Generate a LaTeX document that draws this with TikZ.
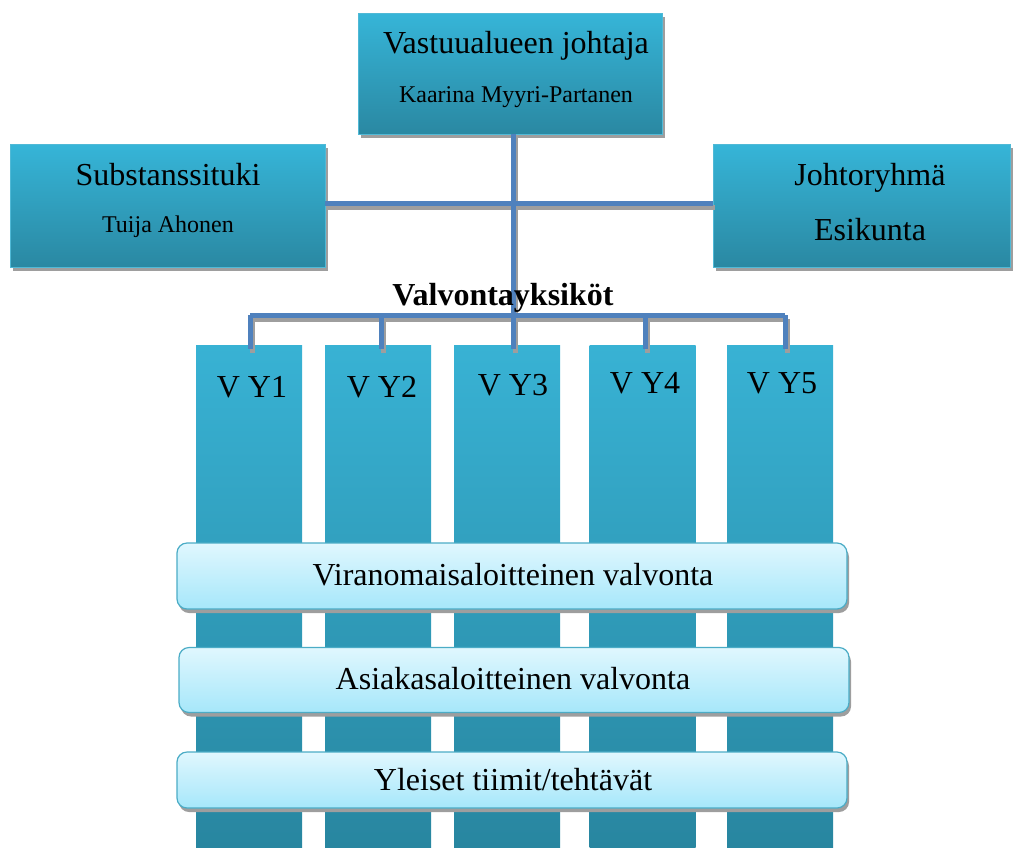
\documentclass[tikz,border=0pt]{standalone}
\usepackage{fontspec}
\setmainfont{Liberation Serif}
\usetikzlibrary{shadows}
\definecolor{boxtop}{RGB}{54,181,216}
\definecolor{boxbot}{RGB}{42,136,162}
\definecolor{boxedge}{RGB}{80,185,214}
\definecolor{coltop}{RGB}{56,178,212}
\definecolor{colbot}{RGB}{40,134,160}
\definecolor{bandtop}{RGB}{224,247,254}
\definecolor{bandbot}{RGB}{166,231,250}
\definecolor{bandline}{RGB}{75,172,198}
\definecolor{conn}{RGB}{79,129,189}
\definecolor{shad}{RGB}{158,158,158}
\begin{document}
\begin{tikzpicture}[x=1pt,y=-1pt,
  every node/.style={inner sep=0pt, outer sep=0pt},
  box/.style={rectangle, draw=boxedge, line width=0.8pt, top color=boxtop, bottom color=boxbot,
    drop shadow={shadow xshift=3pt, shadow yshift=-4pt, fill=shad, opacity=1}},
  col/.style={rectangle, top color=coltop, bottom color=colbot, minimum width=106pt, minimum height=502pt},
  band/.style={rectangle, rounded corners=10pt, draw=bandline, line width=1.2pt,
    top color=bandtop, bottom color=bandbot, minimum width=670pt,
    drop shadow={shadow xshift=2pt, shadow yshift=-4pt, fill=shad, opacity=1}},
  big/.style={font=\fontsize{32}{38}\selectfont, anchor=base},
  small/.style={font=\fontsize{24}{28}\selectfont, anchor=base},
  head/.style={font=\fontsize{32}{38}\selectfont\bfseries, anchor=base},
  link/.style={draw=conn, line width=5pt},
  linkshadow/.style={draw=shad, line width=5pt, transform canvas={xshift=2pt, yshift=-4pt}},
]
\useasboundingbox (0,0) rectangle (1015,847);

% top boxes
\node[box, minimum width=304pt, minimum height=121pt] (lead) at (510,73.5) {};
\node[box, minimum width=315pt, minimum height=123pt] (subst) at (167.5,205.5) {};
\node[box, minimum width=297pt, minimum height=123pt] (group) at (861.5,205.5) {};

% columns
\node[col] (c1) at (249,596) {};
\node[col] (c2) at (378,596) {};
\node[col] (c3) at (507,596) {};
\node[col] (c4) at (642.5,596) {};
\node[col] (c5) at (780,596) {};

% junction coordinates
\coordinate (hl) at (325,203);
\coordinate (hr) at (713,203);
\coordinate (vtop) at (513,134);
\coordinate (vbot) at (513,349);
\coordinate (b1) at (250,315);
\coordinate (b2) at (381,315);
\coordinate (b4) at (645,315);
\coordinate (b5) at (785,315);
\coordinate (e1) at (250,349);
\coordinate (e2) at (381,349);
\coordinate (e4) at (645,349);
\coordinate (e5) at (785,349);

% connector shadows
\draw[linkshadow] (subst.east |- hl) -- (group.west |- hr);
\draw[linkshadow] (b1) -- (b5);
\draw[linkshadow] (b1) -- (e1);
\draw[linkshadow] (b2) -- (e2);
\draw[linkshadow] (b4) -- (e4);
\draw[linkshadow] (b5) -- (e5);
\draw[linkshadow] (vtop) -- (vbot);

% connectors
\draw[link] (subst.east |- hl) -- (group.west |- hr);
\draw[link] (b1) -- (b5);
\draw[link] (b1) -- (e1);
\draw[link] (b2) -- (e2);
\draw[link] (b4) -- (e4);
\draw[link] (b5) -- (e5);
\draw[link] (vtop) -- (vbot);

% bands
\node[band, minimum height=66pt] (band1) at (512,576) {};
\node[band, minimum height=65pt] (band2) at (514,680) {};
\node[band, minimum height=56pt] (band3) at (512,780) {};

% texts
\node[big] (leadA) at (516,53) {Vastuualueen johtaja};
\node[small] (leadB) at (516,102) {Kaarina Myyri-Partanen};
\node[big] (substA) at (168,185) {Substanssituki};
\node[small] (substB) at (168,232) {Tuija Ahonen};
\node[big] (groupA) at (870,185) {Johtoryhmä};
\node[big] (groupB) at (870,240) {Esikunta};
\node[head] (units) at (503,305) {Valvontayksiköt};

\node[big] (l1) at (252,397) {V Y1};
\node[big] (l2) at (382,397) {V Y2};
\node[big] (l3) at (513,395) {V Y3};
\node[big] (l4) at (645,393) {V Y4};
\node[big] (l5) at (782,393) {V Y5};

\node[big] (t1) at (513,585) {Viranomaisaloitteinen valvonta};
\node[big] (t2) at (513,689) {Asiakasaloitteinen valvonta};
\node[big] (t3) at (513,790) {Yleiset tiimit/tehtävät};
\end{tikzpicture}
\end{document}
